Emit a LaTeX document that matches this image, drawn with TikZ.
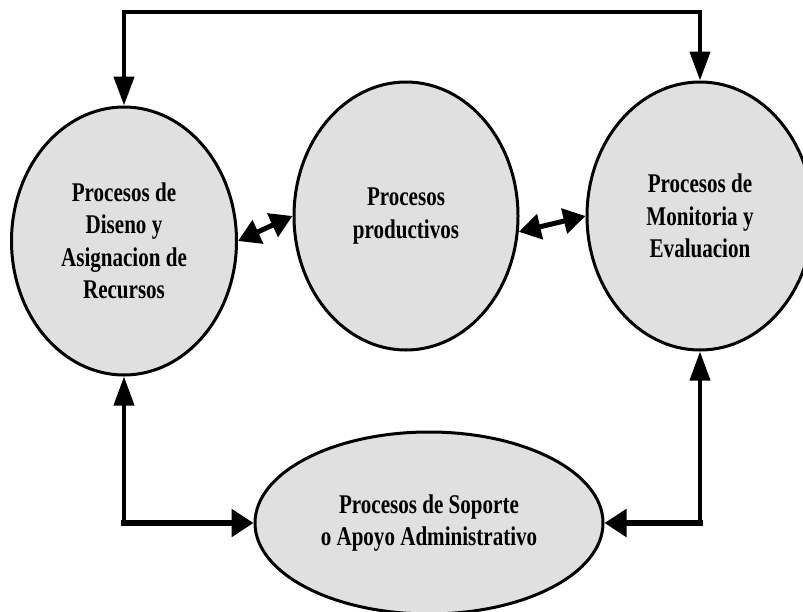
\documentclass[tikz,border=0pt]{standalone}
\usepackage{fontspec}
\newfontfamily\diagfont[FakeStretch=0.78]{Liberation Serif}
\usetikzlibrary{arrows.meta,shapes.geometric}
\definecolor{procgray}{RGB}{224,224,224}

\begin{document}
\begin{tikzpicture}[x=1pt,y=-1pt,
  proc/.style={ellipse, draw, line width=3pt, fill=procgray, inner sep=0pt,
    align=center, font=\diagfont\bfseries\fontsize{27}{32.5}\selectfont},
  vhead/.tip={Triangle[length=29pt,width=20pt]},
  hhead/.tip={Triangle[length=22pt,width=27pt]},
  dhead/.tip={Triangle[length=22pt,width=25pt]},
  looplink/.style={line width=4.5pt, vhead-vhead},
  uplink/.style={line width=4pt, line cap=rect, -vhead},
  sidelink/.style={line width=6pt, line cap=rect, -hhead},
  duallink/.style={line width=5pt, dhead-dhead}]

\useasboundingbox (0,0) rectangle (803,611);

% process ellipses
\node[proc, minimum width=225pt, minimum height=268pt] (L) at (124,241)
  {Procesos de\\Diseno y\\Asignacion de\\Recursos};
\node[proc, minimum width=224pt, minimum height=268pt] (M) at (406,216)
  {Procesos\\productivos};
\node[proc, minimum width=226pt, minimum height=268pt] (R) at (700,216)
  {Procesos de\\Monitoria y\\Evaluacion};
\node[proc, minimum width=348pt, minimum height=182pt] (B) at (429,523)
  {Procesos de Soporte\\o Apoyo Administrativo};

% corner points of the routed connectors
\coordinate (tl) at (124,12);
\coordinate (tr) at (700,12);
\coordinate (bl) at (124,523);
\coordinate (br) at (700,523);

% loop over the top
\draw[looplink] (L.north) -- (tl) -- (tr) -- (R.north);

% links through the support process
\draw[uplink] (bl) -- (L.south);
\draw[sidelink] (bl) -- (B.west);
\draw[uplink] (br) -- (R.south);
\draw[sidelink] (br) -- (B.east);

% two-way links between neighbours
\draw[duallink] (L.east) -- (M.west);
\draw[duallink] (M.-8) -- (R.west);
\end{tikzpicture}
\end{document}
